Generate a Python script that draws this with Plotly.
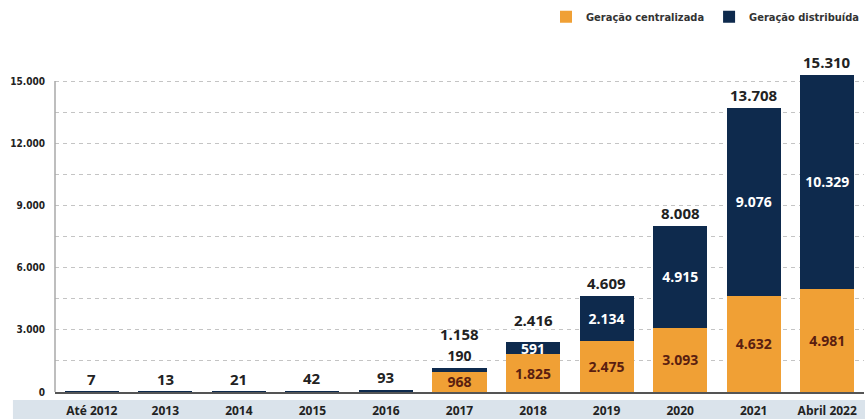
import plotly.graph_objects as go

categories = ["Até 2012", "2013", "2014", "2015", "2016", "2017", "2018", "2019", "2020", "2021", "Abril 2022"]
centralizada = [0, 0, 0, 0, 0, 968, 1825, 2475, 3093, 4632, 4981]
distribuida = [7, 13, 21, 42, 93, 190, 591, 2134, 4915, 9076, 10329]
totais = [7, 13, 21, 42, 93, 1158, 2416, 4609, 8008, 13708, 15310]
y_ticks = [0, 3000, 6000, 9000, 12000, 15000]

ORANGE = "#F0A035"
NAVY = "#0E2A4D"

def fmt(v):
    return f"{v:,}".replace(",", ".")

num_font = "Open Sans"
cond_font = "DejaVu Sans Condensed"

cent_text = [fmt(v) if v > 0 else "" for v in centralizada]
dist_text = [fmt(v) if c > 0 else "" for v, c in zip(distribuida, centralizada)]
dist_pos = ["outside" if (c > 0 and d < 300) else "inside" for d, c in zip(distribuida, centralizada)]

fig = go.Figure()
fig.add_trace(go.Bar(
    x=categories, y=centralizada, name="Geração centralizada",
    marker=dict(color=ORANGE, line=dict(width=0)),
    text=cent_text, textposition="inside", constraintext="none",
    insidetextanchor="middle",
    textfont=dict(family=num_font, size=14, color="#5A1E10", weight=700),
    hoverinfo="skip",
))
fig.add_trace(go.Bar(
    x=categories, y=distribuida, name="Geração distribuída",
    marker=dict(color=NAVY, line=dict(width=0)),
    text=dist_text, textposition=dist_pos, constraintext="none",
    insidetextanchor="middle",
    insidetextfont=dict(family=num_font, size=14, color="white", weight=700),
    outsidetextfont=dict(family=num_font, size=14, color="#222", weight=700),
    cliponaxis=False,
    hoverinfo="skip",
))

# totals above each stack (x given as category index)
for i, (tot, c, d) in enumerate(zip(totais, centralizada, distribuida)):
    if c > 0 and d < 300:
        shift = 22
    elif c > 0 and d < 1000:
        shift = 10
    else:
        shift = 1
    fig.add_annotation(
        x=i, y=tot, text=fmt(tot), showarrow=False,
        yanchor="bottom", yshift=shift,
        font=dict(family=num_font, size=15, color="#222", weight=700),
    )

# y axis line from 0 to 15000
fig.add_shape(type="line", xref="paper", yref="y", x0=0, x1=0, y0=0, y1=15000,
              line=dict(color="#a8a8a8", width=1.5))
# bottom label band
fig.add_shape(type="rect", xref="paper", yref="paper",
              x0=-0.052, x1=1.01, y0=-0.085, y1=-0.024,
              fillcolor="#DAE3EB", line=dict(width=0), layer="below")

fig.update_layout(
    width=865, height=419,
    margin=dict(l=55, r=1, t=60, b=27),
    paper_bgcolor="white", plot_bgcolor="white",
    barmode="stack", bargap=0.265,
    separators=",.",
    showlegend=True,
    legend=dict(orientation="h", x=1.0, xanchor="right", y=1.13, yanchor="middle",
                traceorder="normal", bgcolor="rgba(0,0,0,0)",
                font=dict(family=cond_font, size=11, color="#333", weight=700),
                itemwidth=30),
    xaxis=dict(
        type="category", range=[-0.5, len(categories) - 0.5],
        showline=True, linecolor="#555", linewidth=1.5,
        showgrid=False, ticks="", ticklabelstandoff=7,
        tickfont=dict(family=num_font, size=12, color="#222", weight=700),
        fixedrange=True,
    ),
    yaxis=dict(
        range=[0, 16013],
        tickvals=y_ticks, ticktext=[fmt(v) for v in y_ticks],
        showline=False, zeroline=False,
        showgrid=True, gridcolor="#c4c4c4", griddash="4px,4px", gridwidth=1,
        minor=dict(dtick=1500, tick0=0, showgrid=True, gridcolor="#c4c4c4", griddash="4px,4px", gridwidth=1),
        ticks="", ticklabelstandoff=9,
        tickfont=dict(family=cond_font, size=10, color="#222", weight=700),
        fixedrange=True,
    ),
)

fig.write_html("out.html", config={"displayModeBar": False},
               post_script="document.body.style.margin='0';document.body.style.overflow='hidden';")
